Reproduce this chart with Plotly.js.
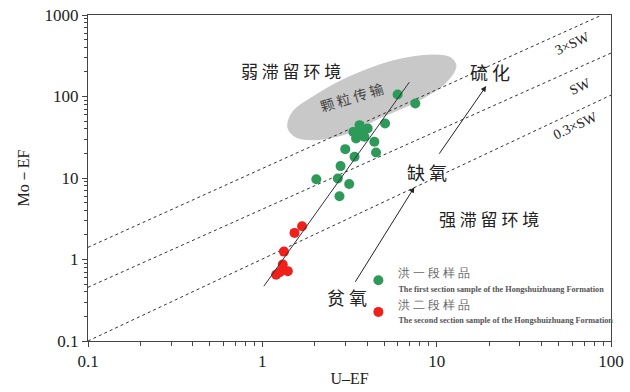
<!DOCTYPE html>
<html><head><meta charset="utf-8">
<script src="https://cdn.plot.ly/plotly-3.0.1.min.js"></script>
<style>html,body{margin:0;padding:0;background:#fff}#chart{width:630px;height:392px}</style>
</head><body><div id="chart"></div>
<script>
// Group 1 (洪一段) samples
const g1U  = [5.97, 7.54, 5.06, 3.61, 3.33, 4.02, 3.85, 3.45, 4.39, 2.99, 4.49, 3.38, 2.81, 2.04, 2.71, 3.15, 2.77, 3.70];
const g1Mo = [106, 82, 46.7, 44.5, 36.8, 40.6, 32, 30.6, 27.8, 22.6, 20.6, 18.2, 14.0, 9.67, 9.86, 8.46, 5.98, 36.8];
// Group 2 (洪二段) samples
const g2U  = [1.69, 1.53, 1.33, 1.31, 1.40, 1.20, 1.26];
const g2Mo = [2.56, 2.12, 1.25, 0.87, 0.72, 0.65, 0.70];
// Seawater reference lines (endpoints)
const sw3U = [0.1, 88.7], sw3Mo = [1.41, 1000];
const sw1U = [0.1, 100],  sw1Mo = [0.456, 341];
const sw03U = [0.1, 100], sw03Mo = [0.1, 104];
// Trend line
const trendU = [1.02, 6.97], trendMo = [0.47, 150];
// Particulate shuttle field
const blobU  = [1.40, 1.49, 1.94, 3.04, 5.87, 9.95, 12.1, 12.9, 11.35, 7.95, 4.69, 3.04, 1.94, 1.53, 1.40];
const blobMo = [42, 64.3, 98.3, 168, 280, 322, 296, 236, 150, 90.3, 54.3, 35, 29.5, 32.5, 42];
// Tick labels
const tickV = [0.1, 1, 10, 100, 1000];
const tickT = ['0.1', '1', '10', '100', '1000'];

const minorV = [];
for (let d = 0.1; d < 1000; d *= 10) for (let k = 2; k <= 9; k++) minorV.push(+(d * k).toPrecision(3));

const names = [
  '<span style="font-size:12px;color:#666">洪 一 段 样 品</span><br><b><span style="font-size:8.2px;color:#555">The first section sample of the Hongshuizhuang Formation</span></b>',
  '<span style="font-size:12px;color:#666">洪 二 段 样 品</span><br><b><span style="font-size:8.2px;color:#555">The second section sample of the Hongshuizhuang Formation</span></b>'
];

const dotLine = {color:'#333', width:1, dash:'dot'};
const traces = [
  {x: blobU, y: blobMo, mode:'lines', fill:'toself', fillcolor:'#c8c8c8', line:{color:'#c8c8c8', width:1, shape:'spline', smoothing:1.0}, showlegend:false, hoverinfo:'skip'},
  {x: sw3U, y: sw3Mo, mode:'lines', line:dotLine, showlegend:false},
  {x: sw1U, y: sw1Mo, mode:'lines', line:dotLine, showlegend:false},
  {x: sw03U, y: sw03Mo, mode:'lines', line:dotLine, showlegend:false},
  {x: g1U, y: g1Mo, mode:'markers', name: names[0], marker:{color:'#2e9a5a', size:10}},
  {x: g2U, y: g2Mo, mode:'markers', name: names[1], marker:{color:'#f0201c', size:10}},
  {x: trendU, y: trendMo, mode:'lines', line:{color:'#333', width:1}, showlegend:false}
];

const cjk = '"Noto Sans CJK SC", "Noto Sans", sans-serif';
const serif = '"Liberation Serif", "DejaVu Serif", serif';
function txt(x, y, text, size, angle, color) {
  return {xref:'paper', yref:'paper', x:x, y:y, text:text, showarrow:false, textangle:angle||0,
    font:{family: cjk, size:size, color: color||'#222'}, xanchor:'center', yanchor:'middle'};
}
function ser(x, y, text, angle) {
  return {xref:'paper', yref:'paper', x:x, y:y, text:text, showarrow:false, textangle:angle,
    font:{family: serif, size:14, color:'#222'}, xanchor:'center', yanchor:'middle'};
}
function arrow(x0, y0, x1, y1) {
  return {xref:'x', yref:'y', axref:'x', ayref:'y', x:x1, y:y1, ax:x0, ay:y0, text:'', showarrow:true,
    arrowhead:2, arrowsize:1.1, arrowwidth:1, arrowcolor:'#222'};
}

const layout = {
  width:630, height:392,
  margin:{l:88, r:18, t:15, b:51},
  paper_bgcolor:'#fff', plot_bgcolor:'#fff',
  showlegend:true,
  legend:{x:0.516, y:0.250, xanchor:'left', yanchor:'top', bgcolor:'rgba(0,0,0,0)', tracegroupgap:4,
    font:{family: serif, size:11, color:'#555'}, itemwidth:30},
  xaxis:{type:'log', range:[-1, 2], showgrid:false, zeroline:false, showline:true, mirror:true,
    linecolor:'#444', linewidth:1, ticks:'outside', ticklen:5, tickcolor:'#444',
    tickvals: tickV.slice(0,4), ticktext: tickT.slice(0,4),
    minor:{tickvals: minorV.filter(v => v < 100), ticks:'outside', ticklen:4, tickcolor:'#444', showgrid:false},
    tickfont:{family: serif, size:17, color:'#222'},
    title:{text:'U–EF', font:{family: serif, size:16, color:'#222'}, standoff:2}},
  yaxis:{type:'log', range:[-1, 3], showgrid:false, zeroline:false, showline:true, mirror:true,
    linecolor:'#444', linewidth:1, ticks:'outside', ticklen:5, tickcolor:'#444',
    tickvals: tickV, ticktext: tickT,
    minor:{tickvals: minorV, ticks:'outside', ticklen:3, tickcolor:'#444', showgrid:false},
    tickfont:{family: serif, size:17, color:'#222'},
    title:{text:'Mo－EF', font:{family: serif, size:16, color:'#222'}, standoff:10}},
  annotations:[
    txt(0.389, 0.831, '弱 滞 留 环 境', 17),
    txt(0.504, 0.748, '颗 粒 传 输', 14, -17, '#444'),
    txt(0.769, 0.825, '硫 化', 18),
    ser(0.926, 0.914, '3×SW', -25),
    ser(0.941, 0.782, 'SW', -25),
    ser(0.933, 0.660, '0.3×SW', -25),
    txt(0.649, 0.518, '缺 氧', 18),
    txt(0.767, 0.377, '强 滞 留 环 境', 17),
    txt(0.496, 0.135, '贫 氧', 18),
    arrow(0.528, -0.292, 0.872, 0.887),
    arrow(1.009, 1.280, 1.284, 2.128)
  ]
};

Plotly.newPlot('chart', traces, layout, {displayModeBar:false, staticPlot:true});
</script></body></html>
